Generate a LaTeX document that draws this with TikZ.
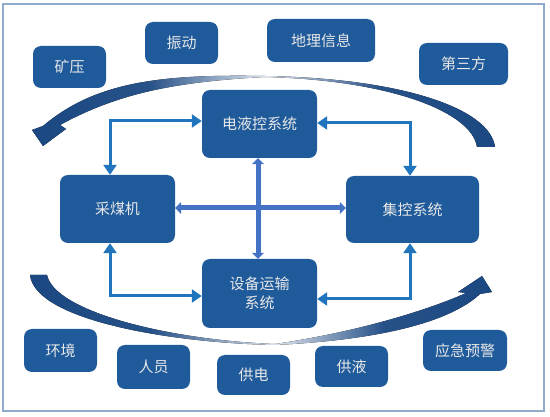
\documentclass[tikz,border=0pt]{standalone}
\usepackage{fontspec}
\newfontfamily\cjk{Noto Sans CJK SC}
\usetikzlibrary{arrows.meta,calc}
\definecolor{boxblue}{RGB}{31,90,155}
\definecolor{connblue}{RGB}{33,117,189}
\definecolor{crossblue}{RGB}{68,114,196}
\definecolor{navy}{RGB}{27,72,130}
\definecolor{txt}{RGB}{232,232,232}
\definecolor{framec}{RGB}{143,170,203}
\begin{document}
\begin{tikzpicture}[x=1pt,y=-1pt,
  box/.style={fill=boxblue, rounded corners=8pt, text=txt, font=\cjk\fontsize{15}{19}\selectfont, inner sep=0pt, align=center},
  conn/.style={draw=connblue, line width=3pt, {Triangle[length=10pt,width=13pt]}-{Triangle[length=10pt,width=13pt]}},
  crossarrow/.style={draw=crossblue, line width=5pt, {Triangle[length=6pt,width=12pt]}-{Triangle[length=6pt,width=12pt]}},
  swooshL/.style={left color=navy, right color=navy!15!white, middle color=navy!95!white},
  swooshR/.style={left color=navy!15!white, right color=navy, middle color=navy!95!white}]
\useasboundingbox (0,0) rectangle (550,417);
\fill[white] (0,0) rectangle (550,417);
\draw[framec, line width=1.3pt] (3,4) rectangle (544,411);

% swooshes
\fill[swooshL]
  (265,76) .. controls (160,74) and (95,82) .. (43,126) -- (32,130) -- (43,146) -- (66,129) -- (60,125)
  .. controls (115,95) and (170,82) .. (265,77) -- cycle;
\fill[swooshR]
  (265,76) .. controls (400,78) and (490,108) .. (495,147) -- (477,147)
  .. controls (472,112) and (390,80) .. (265,77) -- cycle;
\fill[swooshL]
  (30,275) .. controls (35,320) and (170,343) .. (275,345) -- (275,344)
  .. controls (170,340) and (55,312) .. (47,275) -- cycle;
\fill[swooshR]
  (275,345) .. controls (380,340) and (450,322) .. (480,294) -- (492,292) -- (482,276) -- (458,292) -- (466,293)
  .. controls (440,305) and (370,330) .. (275,344) -- cycle;

% boxes
\node[box, minimum width=73pt, minimum height=42pt] (ky) at (69.5,67) {矿压};
\node[box, minimum width=73pt, minimum height=42pt] (zd) at (181.5,43) {振动};
\node[box, minimum width=108pt, minimum height=43pt] (dl) at (321,40.5) {地理信息};
\node[box, minimum width=89pt, minimum height=42pt] (ds) at (463.5,64) {第三方};
\node[box, minimum width=115pt, minimum height=68pt] (dyk) at (259.5,124) {电液控系统};
\node[box, minimum width=115pt, minimum height=68pt] (cmj) at (117.5,209) {采煤机};
\node[box, minimum width=133pt, minimum height=67pt] (jk) at (412.5,209.5) {集控系统};
\node[box, minimum width=115pt, minimum height=69pt] (sb) at (259.5,293.5) {设备运输\\系统};
\node[box, minimum width=73pt, minimum height=43pt] (hj) at (60.5,350.5) {环境};
\node[box, minimum width=73pt, minimum height=44pt] (ry) at (153.5,367) {人员};
\node[box, minimum width=73pt, minimum height=40pt] (gd) at (253.5,375) {供电};
\node[box, minimum width=73pt, minimum height=41pt] (gy) at (351.5,366.5) {供液};
\node[box, minimum width=84pt, minimum height=41pt] (yj) at (465,350.5) {应急预警};

% connectors
\coordinate (c1) at (110,121);
\coordinate (c2) at (410,123);
\coordinate (c3) at (110,296);
\coordinate (c4) at (410,299);
\coordinate (c5) at (258,208);
\draw[conn] (dyk.west |- c1) -| (c1 |- cmj.north);
\draw[conn] (dyk.east |- c2) -| (c2 |- jk.north);
\draw[conn] (c3 |- cmj.south) |- (sb.west |- c3);
\draw[conn] (c4 |- jk.south) |- (sb.east |- c4);
\draw[crossarrow] (cmj.east |- c5) -- (jk.west |- c5);
\draw[crossarrow] (c5 |- dyk.south) -- (c5 |- sb.north);
\end{tikzpicture}
\end{document}
